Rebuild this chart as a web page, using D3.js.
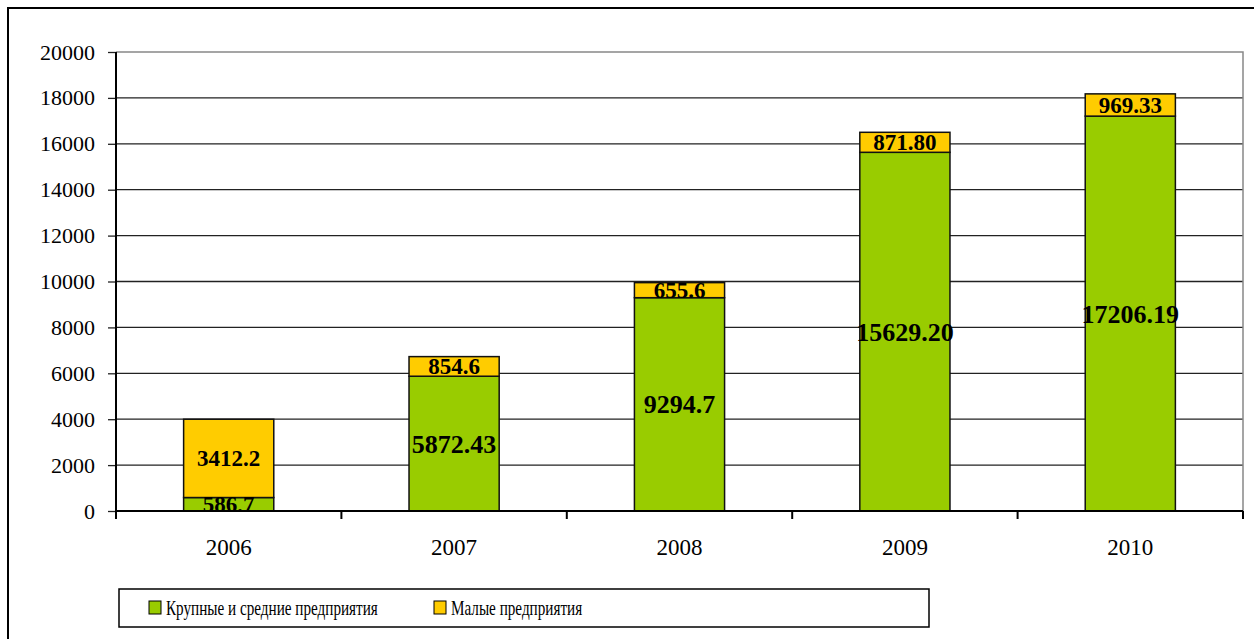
<!DOCTYPE html>
<html>
<head>
<meta charset="utf-8">
<script src="https://cdn.jsdelivr.net/npm/d3@7"></script>
<style>
  body { margin: 0; background: #fff; }
</style>
</head>
<body>
<div id="chart"></div>
<script>
// data
var years = ["2006", "2007", "2008", "2009", "2010"];
var bigValues = [586.7, 5872.43, 9294.7, 15629.20, 17206.19];
var smallValues = [3412.2, 854.6, 655.6, 871.80, 969.33];
var bigLabels = ["586,7", "5872.43", "9294.7", "15629.20", "17206.19"];
var smallLabels = ["3412.2", "854.6", "655.6", "871.80", "969.33"];
var yTicks = [0, 2000, 4000, 6000, 8000, 10000, 12000, 14000, 16000, 18000, 20000];
var seriesNames = ["Крупные и средние предприятия", "Малые предприятия"];
var colors = ["#99cc00", "#ffcc00"];

var FONT = "Liberation Serif";

var W = 1254, H = 639;
var margin = {top: 52, right: 11, bottom: 128, left: 116},
    width = W - margin.left - margin.right,
    height = H - margin.top - margin.bottom;

var svg = d3.select("#chart").append("svg")
    .attr("width", W)
    .attr("height", H)
    .attr("font-family", FONT);

// outer frame (runs off the right and bottom of the page)
svg.append("rect")
    .attr("x", 8).attr("y", 8)
    .attr("width", 1300).attr("height", 700)
    .attr("fill", "none")
    .attr("stroke", "#000")
    .attr("stroke-width", 2);

var g = svg.append("g")
    .attr("transform", "translate(" + margin.left + "," + margin.top + ")");

var x = d3.scaleBand()
    .domain(years)
    .range([0, width])
    .paddingInner(0.6)
    .paddingOuter(0.3);

var y = d3.scaleLinear()
    .domain([0, 20000])
    .range([height, 0]);

// gridlines
g.selectAll(".grid")
    .data(yTicks.slice(1, -1))
    .enter().append("line")
    .attr("x1", 0).attr("x2", width)
    .attr("y1", d => y(d)).attr("y2", d => y(d))
    .attr("stroke", "#222")
    .attr("stroke-width", 1.3);

// plot area border (top & right in gray)
g.append("path")
    .attr("d", "M0," + y(20000) + "H" + width + "V" + height)
    .attr("fill", "none")
    .attr("stroke", "#888")
    .attr("stroke-width", 1.5);

g.append("clipPath").attr("id", "plotClip")
    .append("rect").attr("x", 0).attr("y", 0).attr("width", width).attr("height", height);

// stacked bars
var stackData = years.map((yr, i) => ({year: yr, big: bigValues[i], small: smallValues[i]}));
var stack = d3.stack().keys(["big", "small"])(stackData);

var layers = g.selectAll(".layer")
    .data(stack)
    .enter().append("g")
    .attr("fill", (d, i) => colors[i]);

layers.selectAll("rect")
    .data(d => d)
    .enter().append("rect")
    .attr("x", d => x(d.data.year))
    .attr("y", d => y(d[1]))
    .attr("width", x.bandwidth())
    .attr("height", d => y(d[0]) - y(d[1]))
    .attr("stroke", "#111")
    .attr("stroke-width", 1.5);

// value labels
var labelGroup = g.append("g").attr("clip-path", "url(#plotClip)");
var labelSets = [bigLabels, smallLabels];
stack.forEach((layer, k) => {
    labelGroup.selectAll(".lab" + k)
        .data(layer)
        .enter().append("text")
        .attr("x", d => x(d.data.year) + x.bandwidth() / 2)
        .attr("y", d => (y(d[0]) + y(d[1])) / 2)
        .attr("dy", "0.35em")
        .attr("text-anchor", "middle")
        .attr("font-family", FONT)
        .attr("font-weight", "bold")
        .attr("font-size", (d, i) => (k == 0 && i > 0) ? 26 : 23)
        .attr("fill", "#000")
        .text((d, i) => labelSets[k][i]);
});

// y axis
var yAxis = g.append("g")
    .call(d3.axisLeft(y).tickValues(yTicks).tickSize(8).tickSizeOuter(0).tickFormat(d => d));
yAxis.attr("font-family", FONT).attr("font-size", 22);
yAxis.select(".domain").remove();
yAxis.selectAll(".tick line").attr("stroke", "#222").attr("stroke-width", 1.3);
yAxis.selectAll(".tick text")
    .attr("x", -21)
    .attr("font-family", FONT)
    .attr("font-size", 22)
    .attr("fill", "#000");

g.append("line")
    .attr("x1", 0).attr("x2", 0)
    .attr("y1", 0).attr("y2", height + 8)
    .attr("stroke", "#000").attr("stroke-width", 2);

// x axis: baseline and ticks at category boundaries
g.append("line")
    .attr("x1", 0).attr("x2", width)
    .attr("y1", height).attr("y2", height)
    .attr("stroke", "#000").attr("stroke-width", 2);

var bounds = d3.range(years.length + 1).map(i => i * width / years.length);
g.selectAll(".xtick")
    .data(bounds)
    .enter().append("line")
    .attr("x1", d => d).attr("x2", d => d)
    .attr("y1", height).attr("y2", height + 8)
    .attr("stroke", "#000").attr("stroke-width", 2);

g.selectAll(".xlab")
    .data(years)
    .enter().append("text")
    .attr("x", d => x(d) + x.bandwidth() / 2)
    .attr("y", height + 44)
    .attr("text-anchor", "middle")
    .attr("font-family", FONT)
    .attr("font-size", 23)
    .text(d => d);

// legend
var legend = svg.append("g").attr("transform", "translate(119,589)");
legend.append("rect")
    .attr("width", 810).attr("height", 38)
    .attr("fill", "#fff")
    .attr("stroke", "#000").attr("stroke-width", 1.5);

var legendX = [30, 315];
seriesNames.forEach((name, i) => {
    var item = legend.append("g").attr("transform", "translate(" + legendX[i] + ",0)");
    item.append("rect")
        .attr("x", 0).attr("y", 12)
        .attr("width", 12).attr("height", 13)
        .attr("fill", colors[i])
        .attr("stroke", "#000").attr("stroke-width", 1);
    // text in the original is set narrow, so squeeze it horizontally
    item.append("text")
        .attr("transform", "translate(17,26) scale(0.69,1)")
        .attr("font-family", FONT)
        .attr("font-size", 22)
        .text(name);
});
</script>
</body>
</html>
